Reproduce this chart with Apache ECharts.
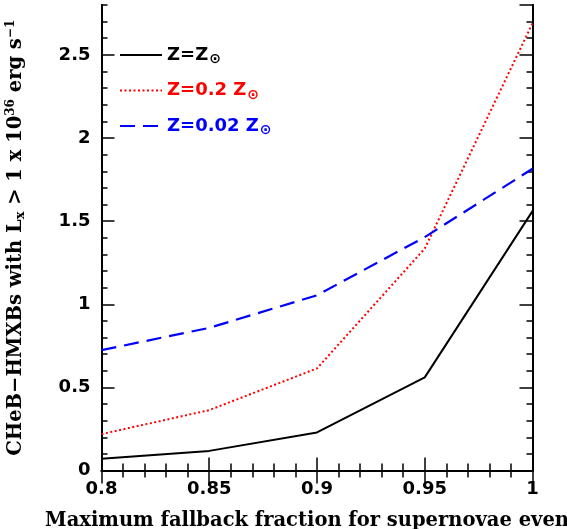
<!DOCTYPE html>
<html><head><meta charset="utf-8">
<script src="https://cdn.jsdelivr.net/npm/echarts@6/dist/echarts.min.js"></script>
<style>html,body{margin:0;padding:0;background:#fff}#c{width:567px;height:529px}</style>
</head><body><div id="c"></div>
<script>
var fallback = [0.8, 0.85, 0.9, 0.95, 1.0];
var zSolar = [0.071, 0.118, 0.229, 0.56, 1.56];
var z02 = [0.219, 0.363, 0.614, 1.335, 2.69];
var z002 = [0.724, 0.858, 1.054, 1.404, 1.815];
var names = ['Z=Z⊙', 'Z=0.2 Z⊙', 'Z=0.02 Z⊙'];

function pairs(ys){ return fallback.map(function(x,i){return [x, ys[i]];}); }

var serif = 'DejaVu Serif';
var sans = 'DejaVu Sans';
var axisLine = {show:true, lineStyle:{color:'#000', width:2}};
var grid = {left:101.5, right:34.5, top:5, bottom:58.5, containLabel:false, outerBoundsMode:'none'};

function xAx(pos, labels){
  return {type:'value', position:pos, min:0.8, max:1.0, interval:0.05,
    axisLine:axisLine, splitLine:{show:false},
    axisTick:{show:true, inside:true, length:13, lineStyle:{color:'#000', width:1.5}},
    minorTick:{show:true, splitNumber:5, length:7, lineStyle:{color:'#000', width:1.5}},
    axisLabel:{show:labels, margin:10, color:'#000', fontFamily:sans, fontSize:18, fontWeight:'bold',
      formatter:function(v){return String(+v.toFixed(2));}},
    name: labels ? 'Maximum fallback fraction for supernovae events' : '',
    nameLocation:'middle', nameGap:40,
    nameTextStyle:{fontFamily:serif, fontSize:19.5, fontWeight:'bold', color:'#000'}
  };
}
function yAx(pos, interval, len, labels){
  var a = {type:'value', position:pos, offset:0, min:0, max:2.8, interval:interval,
    axisLine:axisLine, splitLine:{show:false},
    axisTick:{show:true, inside:true, length:len, lineStyle:{color:'#000', width:1.5}},
    axisLabel:{show:labels, margin:11, color:'#000', fontFamily:sans, fontSize:18, fontWeight:'bold', showMaxLabel:false,
      formatter:function(v){return String(+v.toFixed(1));}}
  };
  if(labels){
    a.name = '{n|CHeB−HMXBs with L}{sub|x}{n| > 1 x 10}{sup|36}{n| erg s}{sup|−1}';
    a.nameLocation='middle'; a.nameGap=74;
    a.nameTextStyle={fontFamily:serif, fontSize:19.5, fontWeight:'bold', color:'#000',
      rich:{n:{fontFamily:serif, fontSize:19.5, fontWeight:'bold', color:'#000'},
            sub:{fontFamily:serif, fontSize:13, fontWeight:'bold', color:'#000', verticalAlign:'bottom', padding:[10,0,0,0]},
            sup:{fontFamily:serif, fontSize:12, fontWeight:'bold', color:'#000', verticalAlign:'top', padding:[0,0,10,0]}}};
  }
  return a;
}

var subStyle = function(c){ return {color:c,fontFamily:sans,fontSize:14,fontWeight:'bold',verticalAlign:'bottom',padding:[9,0,0,1]}; };
var mainStyle = function(c){ return {color:c,fontFamily:sans,fontSize:18,fontWeight:'bold'}; };

var chart = echarts.init(document.getElementById('c'), null, {renderer:'canvas'});
chart.setOption({
  animation:false,
  backgroundColor:'#fff',
  grid:grid,
  xAxis:[xAx('bottom', true), xAx('top', false)],
  yAxis:[yAx('left',0.5,13,true), yAx('left',0.1,6,false), yAx('right',0.5,13,false), yAx('right',0.1,6,false)],
  legend:{orient:'vertical', left:119, top:46, padding:0, itemWidth:42, itemHeight:14, itemGap:15,
    itemStyle:{opacity:0},
    data:[{name:names[0], textStyle:{color:'#000'}},
          {name:names[1], textStyle:{color:'#ff0000'}},
          {name:names[2], textStyle:{color:'#0000ff'}}],
    formatter:function(n){
      var k = n===names[0]?'k':(n===names[1]?'r':'b');
      return '{'+k+'|'+n.replace('⊙','')+'}{'+k+'s|⊙}';
    },
    textStyle:{fontFamily:sans, fontSize:18,
      rich:{k:mainStyle('#000'), ks:subStyle('#000'),
            r:mainStyle('#ff0000'), rs:subStyle('#ff0000'),
            b:mainStyle('#0000ff'), bs:subStyle('#0000ff')}}
  },
  series:[
    {name:names[0], type:'line', data:pairs(zSolar), showSymbol:false, symbol:'none',
      lineStyle:{color:'#000', width:2, type:'solid'}, itemStyle:{color:'#000'}},
    {name:names[1], type:'line', data:pairs(z02), showSymbol:false, symbol:'none',
      lineStyle:{color:'#ff0000', width:2, type:[2,2.5]}, itemStyle:{color:'#ff0000'}},
    {name:names[2], type:'line', data:pairs(z002), showSymbol:false, symbol:'none',
      lineStyle:{color:'#0000ff', width:2.2, type:[15,8]}, itemStyle:{color:'#0000ff'}}
  ]
});
</script></body></html>
